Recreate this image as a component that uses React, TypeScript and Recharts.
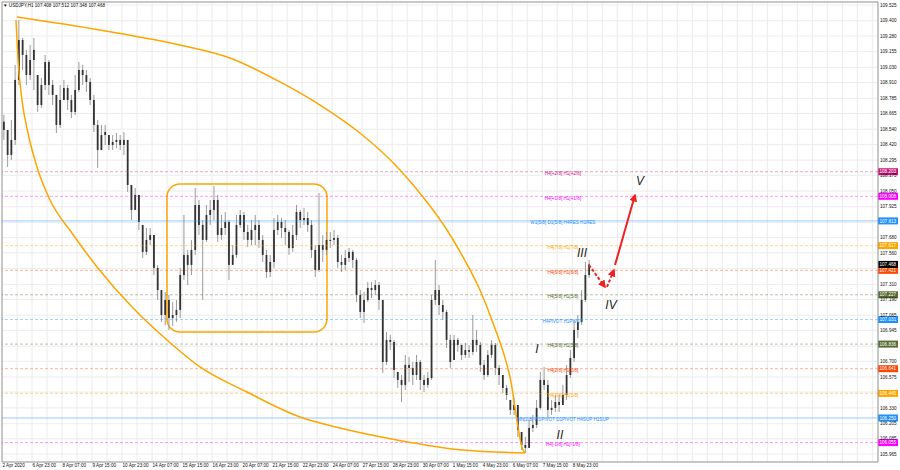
import {
  Bar,
  CartesianGrid,
  ComposedChart,
  Line,
  ReferenceArea,
  ReferenceLine,
  Scatter,
  XAxis,
  YAxis,
} from "recharts";

// USDJPY H1, 2 Apr – 8 May 2020. Candles are grouped 4 hourly bars each;
// time axis is in hourly bar units (weekends removed, as in MT4).
const highs = [
  108.653, 108.534, 108.613, 109.05, 109.406, 109.264, 109.169, 109.208, 109.264, 108.97,
  108.946, 109.129, 109.089, 108.931, 108.812, 108.891, 108.931, 108.891, 108.812, 108.97,
  109.073, 109.05, 109.01, 108.946, 108.812, 108.613, 108.574, 108.574, 108.494, 108.494,
  108.51, 108.494, 108.518, 108.455, 108.098, 108.074, 108.019, 107.781, 107.757, 107.757,
  107.701, 107.464, 107.265, 107.249, 107.226, 107.17, 107.186, 107.44, 107.86, 107.583,
  107.662, 108.074, 107.979, 107.82, 107.939, 107.979, 108.09, 108.019, 107.86, 107.884,
  107.82, 107.622, 107.86, 107.9, 107.884, 107.781, 107.82, 107.86, 107.82, 107.701,
  107.583, 107.543, 107.836, 107.86, 107.836, 107.82, 107.741, 107.781, 107.939, 107.9,
  107.916, 107.884, 107.82, 107.622, 108.035, 107.701, 107.725, 107.725, 107.741, 107.701,
  107.543, 107.583, 107.598, 107.583, 107.519, 107.265, 107.249, 107.329, 107.329, 107.345,
  107.329, 107.186, 106.932, 106.909, 106.869, 106.615, 106.591, 106.75, 106.734, 106.694,
  106.75, 106.71, 106.591, 106.615, 107.226, 107.503, 107.305, 107.186, 107.107, 106.909,
  106.909, 106.885, 106.829, 106.845, 106.829, 107.067, 106.948, 106.853, 106.71, 106.789,
  106.869, 106.845, 106.671, 106.591, 106.512, 106.393, 106.409, 106.353, 106.139, 106.1,
  106.234, 106.274, 106.393, 106.615, 106.655, 106.552, 106.393, 106.433, 106.433, 106.512,
  106.671, 106.789, 107.027, 107.067, 107.265, 107.487, 107.503,
];

const lows = [
  108.455, 108.241, 108.296, 108.415, 108.891, 109.01, 108.891, 108.931, 108.851, 108.677,
  108.709, 108.851, 108.812, 108.732, 108.51, 108.55, 108.772, 108.693, 108.629, 108.653,
  108.835, 108.891, 108.835, 108.732, 108.518, 108.233, 108.375, 108.415, 108.375, 108.375,
  108.391, 108.375, 108.336, 108.042, 107.82, 107.9, 107.741, 107.519, 107.543, 107.622,
  107.384, 107.186, 107.012, 106.988, 106.948, 106.98, 107.012, 107.043, 107.345, 107.305,
  107.384, 107.543, 107.701, 107.186, 107.646, 107.781, 107.82, 107.646, 107.662, 107.701,
  107.345, 107.464, 107.519, 107.757, 107.662, 107.606, 107.622, 107.622, 107.598, 107.487,
  107.361, 107.368, 107.44, 107.701, 107.678, 107.622, 107.543, 107.567, 107.662, 107.757,
  107.781, 107.725, 107.519, 107.368, 107.408, 107.487, 107.543, 107.598, 107.622, 107.44,
  107.408, 107.424, 107.487, 107.44, 107.17, 107.043, 107.004, 107.17, 107.202, 107.226,
  107.107, 106.607, 106.671, 106.789, 106.567, 106.488, 106.377, 106.472, 106.536, 106.512,
  106.552, 106.472, 106.456, 106.488, 106.552, 107.146, 107.067, 107.027, 106.805, 106.647,
  106.71, 106.774, 106.71, 106.726, 106.726, 106.75, 106.774, 106.615, 106.552, 106.575,
  106.726, 106.591, 106.512, 106.448, 106.393, 106.274, 106.274, 106.1, 105.997, 105.973,
  106.013, 106.139, 106.171, 106.314, 106.472, 106.25, 106.274, 106.298, 106.298, 106.353,
  106.393, 106.567, 106.694, 106.885, 106.988, 107.17, 107.361,
];

const closes = [
  108.534, 108.336, 108.455, 108.931, 109.248, 109.129, 108.97, 109.089, 109.169, 108.732,
  108.891, 109.073, 108.891, 108.812, 108.574, 108.772, 108.867, 108.772, 108.677, 108.851,
  109.01, 108.97, 108.915, 108.772, 108.574, 108.375, 108.494, 108.518, 108.415, 108.439,
  108.455, 108.415, 108.455, 108.098, 107.9, 108.019, 107.805, 107.567, 107.662, 107.701,
  107.44, 107.265, 107.067, 107.186, 107.043, 107.067, 107.107, 107.384, 107.543, 107.464,
  107.583, 107.939, 107.781, 107.662, 107.86, 107.9, 107.979, 107.701, 107.757, 107.805,
  107.464, 107.543, 107.781, 107.86, 107.725, 107.662, 107.741, 107.781, 107.662, 107.543,
  107.408, 107.487, 107.741, 107.805, 107.757, 107.725, 107.598, 107.701, 107.884, 107.82,
  107.836, 107.781, 107.583, 107.424, 107.622, 107.583, 107.662, 107.662, 107.678, 107.487,
  107.464, 107.519, 107.567, 107.503, 107.226, 107.091, 107.186, 107.281, 107.265, 107.305,
  107.186, 106.694, 106.869, 106.853, 106.631, 106.552, 106.512, 106.671, 106.647, 106.591,
  106.694, 106.552, 106.512, 106.567, 107.186, 107.265, 107.146, 107.091, 106.869, 106.694,
  106.869, 106.829, 106.75, 106.789, 106.774, 106.869, 106.829, 106.671, 106.591, 106.75,
  106.829, 106.647, 106.591, 106.488, 106.433, 106.314, 106.353, 106.155, 106.036, 106.013,
  106.171, 106.195, 106.33, 106.552, 106.512, 106.314, 106.33, 106.377, 106.353, 106.433,
  106.591, 106.726, 106.948, 107.012, 107.186, 107.384, 107.468,
];
const firstOpen = 108.6;
const lastPrice = 107.468;

const dateLabels = [
  "2 Apr 2020", "6 Apr 23:00", "8 Apr 07:00", "9 Apr 15:00", "10 Apr 23:00",
  "14 Apr 07:00", "15 Apr 15:00", "16 Apr 23:00", "20 Apr 07:00", "21 Apr 15:00",
  "22 Apr 23:00", "24 Apr 07:00", "27 Apr 15:00", "28 Apr 23:00", "30 Apr 07:00",
  "1 May 15:00", "4 May 23:00", "6 May 07:00", "7 May 15:00", "8 May 23:00",
];

const priceTicks = [
  109.525, 109.4, 109.28, 109.155, 109.03, 108.91, 108.785, 108.665, 108.54, 108.42,
  108.295, 108.175, 108.05, 107.925, 107.8, 107.68, 107.56, 107.435, 107.31, 107.19,
  107.065, 106.945, 106.82, 106.7, 106.575, 106.455, 106.33, 106.205, 106.085, 105.965,
];

// Murrey-math style levels drawn by the indicator
const levelPrices = [
  108.203, 108.008, 107.813, 107.617, 107.421, 107.227, 107.031, 106.836, 106.641, 106.445, 106.25, 106.055,
];
const levelNames = [
  "H4[+2/8] H1[+2/8]",
  "H4[+1/8] H1[+1/8]",
  "W1[5/8] D1[5/8] H4RES H1RES",
  "H4[7/8] H1[7/8]",
  "H4[6/8] H1[6/8]",
  "H4[5/8] H1[5/8]",
  "H4PIVOT H1PIVOT",
  "H4[3/8] H1[3/8]",
  "H4[2/8] H1[2/8]",
  "H4[1/8] H1[1/8]",
  "MN[2/8] W1PIVOT D1PIVOT H4SUP H1SUP",
  "H4[-1/8] H1[-1/8]",
];
const levelColors = [
  "#c8167f", "#ff00ff", "#1e90ff", "#ffa500", "#ff4500", "#556b2f",
  "#1e90ff", "#556b2f", "#ff4500", "#ffa500", "#1e90ff", "#ff00ff",
];
const levelSolid = [false, false, true, false, false, false, false, false, false, false, true, false];

// hand-drawn objects in (bar, price)
const upperArc = [
  [16, 109.43], [104.5, 109.327], [189.8, 109.208], [243.1, 109.105], [296.4, 108.915],
  [339.1, 108.732], [381.7, 108.51], [424.4, 108.217], [448.9, 108.003], [474.5, 107.741],
  [491.5, 107.527], [509.6, 107.265], [523.5, 107.003], [541.6, 106.575], [555.5, 105.996],
  [557.6, 105.973],
];
const lowerArc = [
  [14.9, 109.406], [17.1, 109.089], [21.3, 108.772], [27.7, 108.51], [37.3, 108.241],
  [51.2, 107.979], [74.6, 107.717], [101.3, 107.448], [139.7, 107.122], [175.9, 106.869],
  [211.1, 106.655], [261.2, 106.456], [317.7, 106.258], [360.4, 106.171], [421.1, 106.076],
  [491.5, 105.996], [557.6, 105.973],
];
const rangeBox = { t1: 175.9, t2: 346.5, p1: 106.932, p2: 108.106 };
const waveNames = ["I", "II", "III", "IV", "V"];
const waveT = [570.4, 594.9, 618.4, 649.3, 680.2];
const waveP = [106.805, 106.123, 107.559, 107.154, 108.13];
const arrowSegs = [
  [625.9, 107.463, 642.9, 107.289],
  [645, 107.289, 652.5, 107.424],
  [653.6, 107.463, 674.9, 108.018],
];
const arrowDashed = [true, true, false];

const T_MAX = 934;
const P_MIN = 105.901;
const P_MAX = 109.549;
const LEVEL_TEXT_T = 598;
const FONT = "'Liberation Sans', Arial, sans-serif";
const ORANGE = "#ffa500";

const candles = closes.map((c, i) => {
  const h = highs[i];
  const l = lows[i];
  const prev = i === 0 ? firstOpen : closes[i - 1];
  return { t: i * 4 + 2, o: Math.min(Math.max(prev, l), h), h, l, c, range: [l, h] };
});
const xTicks = Array.from({ length: 59 }, (_, i) => i * 16);
const tagPrices = [...levelPrices, lastPrice];
const levelTable = levelPrices.map((p, i) => ({ t: LEVEL_TEXT_T, p, text: levelNames[i], color: levelColors[i] }));
const waveTable = waveNames.map((text, i) => ({ t: waveT[i], p: waveP[i], text }));
const upperData = upperArc.map(([t, p]) => ({ t, p }));
const lowerData = lowerArc.map(([t, p]) => ({ t, p }));

function Candle(props: any) {
  const { x, y, width, height, payload } = props;
  const top = Math.min(y, y + height);
  const span = Math.abs(height);
  const k = span / (payload.h - payload.l || 1);
  const yo = top + (payload.h - payload.o) * k;
  const yc = top + (payload.h - payload.c) * k;
  const cx = x + width / 2;
  return (
    <g>
      <line x1={cx} x2={cx} y1={top} y2={top + span} stroke="#9a9a9a" strokeWidth={1} />
      <rect x={cx - 0.9} y={Math.min(yo, yc)} width={1.8} height={Math.max(Math.abs(yc - yo), 1)} fill="#333" />
    </g>
  );
}

function PriceTag({ viewBox, value, color }: any) {
  if (!viewBox) return null;
  const left = viewBox.x + viewBox.width;
  return (
    <g>
      <rect x={left} y={viewBox.y - 3.5} width={20} height={7} fill={color} />
      <text x={left + 1.5} y={viewBox.y + 1.7} fontSize={4.6} fontFamily={FONT} fill="#fff">
        {value.toFixed(3)}
      </text>
    </g>
  );
}

function LevelText(props: any) {
  const { cx, cy, payload } = props;
  return (
    <text x={cx} y={cy + 3.3} textAnchor="middle" fontSize={4.6} fontFamily={FONT} fill={payload.color}>
      {payload.text}
    </text>
  );
}

function WaveText(props: any) {
  const { cx, cy, payload } = props;
  return (
    <text x={cx} y={cy + 4.5} textAnchor="middle" fontSize={12} fontStyle="italic" fontFamily={FONT} fill="#1e1e1e">
      {payload.text}
    </text>
  );
}

function DateTick({ x, y, payload }: any) {
  const k = payload.value / 32;
  const label = Number.isInteger(k) ? dateLabels[k] : undefined;
  if (!label) return <g />;
  return (
    <text x={x + 0.5} y={y + 5} fontSize={4.6} fontFamily={FONT} fill="#111">
      {label}
    </text>
  );
}

// MT4 paints the level tags over the scale, so a tick sitting under a tag is not seen
function PriceTick({ x, y, payload }: any) {
  if (tagPrices.some((p) => Math.abs(p - payload.value) < 0.02)) return <g />;
  return (
    <text x={x} y={y + 1.7} fontSize={4.6} fontFamily={FONT} fill="#111">
      {payload.value.toFixed(3)}
    </text>
  );
}

export default function App() {
  return (
    <div style={{ position: "relative", width: 900, height: 470, background: "#fff" }}>
      <style>{"body{margin:0}"}</style>
      <ComposedChart width={900} height={470} data={candles} margin={{ top: 2, right: 0, bottom: 0, left: 2 }}>
        <defs>
          <marker id="redHead" viewBox="0 0 10 10" refX="8" refY="5" markerWidth="4" markerHeight="4" orient="auto">
            <path d="M0,0 L10,5 L0,10 z" fill="#ee2222" />
          </marker>
        </defs>
        <CartesianGrid stroke="#ececec" />
        <XAxis
          dataKey="t"
          type="number"
          domain={[0, T_MAX]}
          ticks={xTicks}
          interval={0}
          allowDataOverflow
          height={8}
          tickSize={0}
          tickMargin={0}
          tick={<DateTick />}
          axisLine={{ stroke: "#999" }}
        />
        <YAxis
          orientation="right"
          type="number"
          domain={[P_MIN, P_MAX]}
          ticks={priceTicks}
          interval={0}
          allowDataOverflow
          width={22}
          tickSize={0}
          tickMargin={2}
          tick={<PriceTick />}
          axisLine={{ stroke: "#999" }}
        />
        <ReferenceLine y={P_MAX} stroke="#999" />
        <ReferenceLine x={0} stroke="#999" />
        {levelPrices.map((p, i) => (
          <ReferenceLine
            key={p}
            y={p}
            stroke={levelColors[i]}
            strokeOpacity={levelSolid[i] ? 0.45 : 0.4}
            strokeDasharray={levelSolid[i] ? undefined : "3 2"}
            label={<PriceTag value={p} color={levelColors[i]} />}
          />
        ))}
        <ReferenceLine y={lastPrice} stroke="none" label={<PriceTag value={lastPrice} color="#000" />} />
        <Bar dataKey="range" barSize={3} shape={<Candle />} isAnimationActive={false} />
        <Line data={upperData} dataKey="p" type="monotone" stroke={ORANGE} strokeWidth={1.5} dot={false} activeDot={false} isAnimationActive={false} />
        <Line data={lowerData} dataKey="p" type="monotone" stroke={ORANGE} strokeWidth={1.5} dot={false} activeDot={false} isAnimationActive={false} />
        <ReferenceArea
          x1={rangeBox.t1}
          x2={rangeBox.t2}
          y1={rangeBox.p1}
          y2={rangeBox.p2}
          shape={(p: any) => (
            <rect x={p.x} y={p.y} width={p.width} height={p.height} rx={13} fill="none" stroke={ORANGE} strokeWidth={1.5} />
          )}
        />
        {arrowSegs.map(([t1, p1, t2, p2], i) => (
          <ReferenceLine
            key={i}
            segment={[{ x: t1, y: p1 }, { x: t2, y: p2 }]}
            shape={(p: any) => (
              <line
                x1={p.x1}
                y1={p.y1}
                x2={p.x2}
                y2={p.y2}
                stroke="#ee2222"
                strokeWidth={2}
                strokeDasharray={arrowDashed[i] ? "3 2" : undefined}
                markerEnd="url(#redHead)"
              />
            )}
          />
        ))}
        <Scatter data={levelTable} dataKey="p" shape={<LevelText />} isAnimationActive={false} />
        <Scatter data={waveTable} dataKey="p" shape={<WaveText />} isAnimationActive={false} />
      </ComposedChart>
      <svg width={200} height={10} style={{ position: "absolute", left: 0, top: 0 }}>
        <text x={3} y={6.8} fontSize={4.6} fontFamily={FONT} fill="#111">
          ▼ USDJPY,H1  107.408 107.512 107.348 107.468
        </text>
      </svg>
    </div>
  );
}
